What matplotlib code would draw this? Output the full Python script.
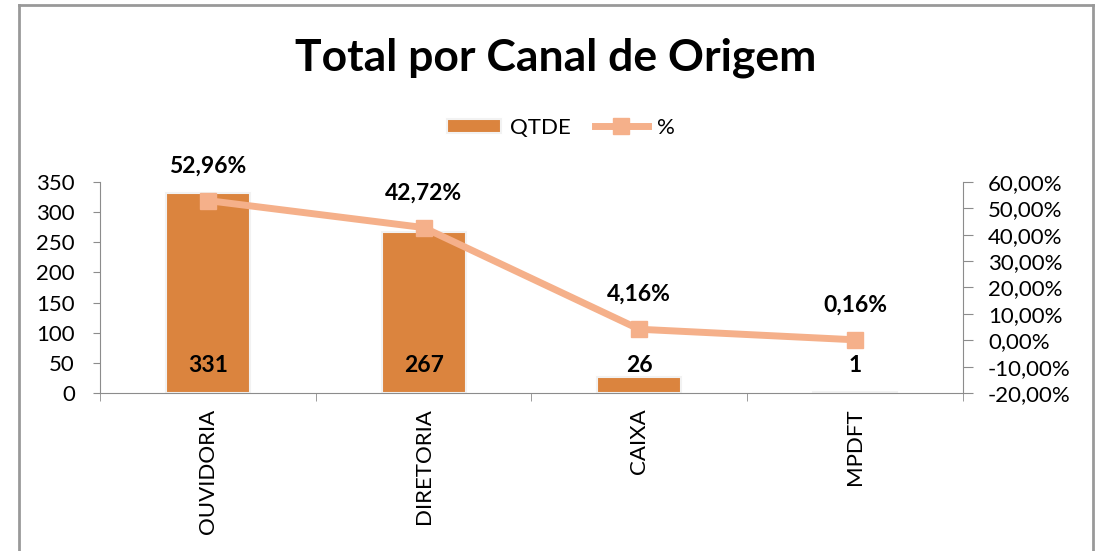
import matplotlib.pyplot as plt
from matplotlib.lines import Line2D
from matplotlib.ticker import FuncFormatter

plt.rcParams['font.family'] = ['Lato', 'DejaVu Sans']

# Data
canais = ['OUVIDORIA', 'DIRETORIA', 'CAIXA', 'MPDFT']
qtde = [331, 267, 26, 1]
pct = [52.96, 42.72, 4.16, 0.16]

bar_color = '#DB843E'
line_color = '#F5B08A'
axis_gray = '#8C8C8C'

fig = plt.figure(figsize=(10.96, 5.51), dpi=100)
ax1 = fig.add_axes([0.0912, 0.2868, 0.7874, 0.3829])
ax2 = ax1.twinx()

x = list(range(len(canais)))

# Bars (QTDE)
ax1.bar(x, qtde, width=0.39, color=bar_color, edgecolor='#F2F2F2', linewidth=1.5,
        label='QTDE', zorder=2)
ax1.set_xlim(-0.5, len(canais) - 0.5)
ax1.set_ylim(0, 350)
ax1.set_yticks(range(0, 351, 50))

# Line (%)
ax2.plot(x, pct, color=line_color, linewidth=5, marker='s', markersize=11,
         label='%', zorder=3)
ax2.set_ylim(-20, 60)
ax2.set_yticks(range(-20, 61, 10))
ax2.yaxis.set_major_formatter(FuncFormatter(lambda v, p: f"{v:.2f}%".replace('.', ',')))

# Value labels
for xi, q in zip(x, qtde):
    ax1.text(xi, 45, str(q), ha='center', va='center', fontsize=16.5, fontweight='bold', zorder=5)
for xi, p in zip(x, pct):
    ax2.annotate(f"{p:.2f}%".replace('.', ','), (xi, p), xytext=(0, 25), textcoords='offset points',
                 ha='center', va='center', fontsize=16.5, fontweight='bold')

# Axes styling
for ax in (ax1, ax2):
    ax.spines['top'].set_visible(False)
    for side in ('left', 'right', 'bottom'):
        ax.spines[side].set_color(axis_gray)
ax1.spines['right'].set_visible(False)
ax2.spines['left'].set_visible(False)
ax2.spines['bottom'].set_visible(False)

ax1.tick_params(axis='y', colors=axis_gray, labelcolor='black', labelsize=16, length=5,
                direction='out', pad=13)
ax2.tick_params(axis='y', colors=axis_gray, labelcolor='black', labelsize=16, length=7,
                direction='out', pad=11)

ax1.set_xticks(x)
ax1.set_xticklabels(canais, rotation=90, fontsize=16)
ax1.tick_params(axis='x', length=0, pad=11)
ax1.set_xticks([i + 0.5 for i in range(-1, len(canais))], minor=True)
ax1.tick_params(axis='x', which='minor', length=6, color=axis_gray)

# Title and legend
fig.text(0.507, 0.895, 'Total por Canal de Origem', ha='center', va='center',
         fontsize=32, fontweight='bold')
h1, l1 = ax1.get_legend_handles_labels()
h2, l2 = ax2.get_legend_handles_labels()
fig.legend(h1 + h2, l1 + l2, loc='center', bbox_to_anchor=(0.512, 0.768), ncol=2,
           frameon=False, fontsize=16, handlelength=2.4, handleheight=0.6,
           columnspacing=1.1, handletextpad=0.4)

# Chart border
fig.add_artist(Line2D([0.0173, 0.0173], [0.0, 0.991], transform=fig.transFigure, color='#999999', lw=2))
fig.add_artist(Line2D([0.0173, 0.9973], [0.991, 0.991], transform=fig.transFigure, color='#999999', lw=2))
fig.add_artist(Line2D([0.9973, 0.9973], [0.0, 0.991], transform=fig.transFigure, color='#999999', lw=2))

fig.savefig('out.png', dpi=100)
